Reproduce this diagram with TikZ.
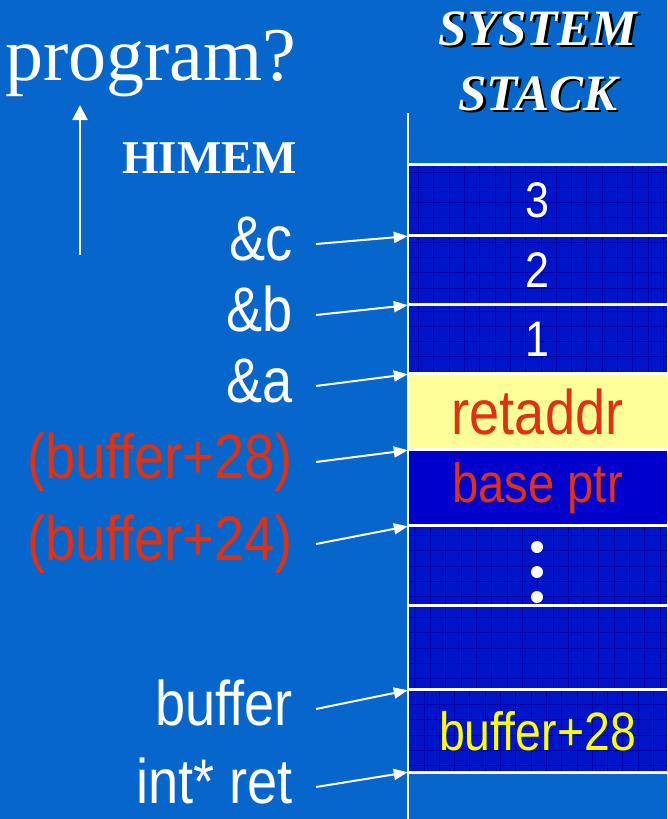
\documentclass[tikz,border=0pt]{standalone}
\usepackage{fontspec}
\setmainfont{Liberation Serif}
\newfontfamily\narrowsans[FakeStretch=0.86]{Liberation Sans}
\usetikzlibrary{arrows.meta}
\definecolor{slidebg}{RGB}{6,102,204}
\definecolor{stackblue}{RGB}{0,20,200}
\definecolor{gridblue}{RGB}{0,0,168}
\definecolor{solidblue}{RGB}{0,0,204}
\definecolor{memyellow}{RGB}{255,255,153}
\definecolor{ptrred}{RGB}{221,50,20}
\definecolor{bufyellow}{RGB}{255,255,0}
\newcommand\dropshadowed[1]{\makebox[0pt][l]{\kern2.5pt\raisebox{-2.5pt}{\color{black}#1}}#1}
\tikzset{
  ptr/.style={draw=white, line width=2pt, -{Triangle[length=14pt,width=11pt]}},
  addrlabel/.style={anchor=base east, inner sep=0pt, text height=45pt, text depth=13pt,
    text=white, font=\narrowsans\fontsize{63}{63}\selectfont},
  cell/.style={inner sep=0pt, minimum width=259pt, fill=stackblue,
    path picture={\draw[gridblue, line width=0.6pt]
      (path picture bounding box.south west) grid[step=15.3pt] (path picture bounding box.north east);}},
  celltext/.style={font=\narrowsans\fontsize{#1}{#1}\selectfont},
  divider/.style={draw=white, line width=3pt},
}
\begin{document}
\begin{tikzpicture}[x=1pt, y=-1pt]
\fill[slidebg] (0,0) rectangle (667,819);
\useasboundingbox (0,0) rectangle (667,819);
% heading
\node[anchor=base west, inner sep=0pt, text=white, font=\fontsize{76}{76}\selectfont] (prog) at (5,80) {program?};
\node[anchor=base west, inner sep=0pt, text=white, font=\bfseries\fontsize{47}{47}\selectfont] (himem) at (122,173) {HIMEM};
\foreach \word/\yy in {SYSTEM/45, STACK/110}
  \node[anchor=base, inner sep=0pt, text=white, font=\bfseries\itshape\fontsize{51}{51}\selectfont] (title-\word) at (538,\yy) {\dropshadowed{\word}};
\coordinate (upfoot) at (80,255);
\coordinate (uptip) at (80,105);
\draw[draw=white, line width=2pt, -{Triangle[length=15pt,width=15pt]}] (upfoot) -- (uptip);
% stack cells
\node[cell, minimum height=71pt, text=white, celltext=50] (c3) at (537.5,200.5) {3};
\node[cell, minimum height=69pt, text=white, celltext=50] (c2) at (537.5,270.5) {2};
\node[cell, minimum height=69pt, text=white, celltext=50] (c1) at (537.5,339.5) {1};
\node[inner sep=0pt, minimum width=259pt, minimum height=76pt, fill=memyellow, text=ptrred, celltext=63] (ret) at (537.5,412) {retaddr};
\node[inner sep=0pt, minimum width=259pt, minimum height=76pt, fill=solidblue, text=ptrred, celltext=55] (bp) at (537.5,488) {base ptr};
\node[cell, minimum height=80pt] (gap) at (537.5,566) {};
\node[cell, minimum height=84pt] (free) at (537.5,648) {};
\node[cell, minimum height=82pt, text=bufyellow, celltext=54] (buf) at (537.5,731) {buffer+28};
\foreach \yy in {547,572,597}
  \fill[white] (537,\yy) circle (6pt);
% dividers
\foreach \cc in {c3,c2,c1,ret,bp,gap,free,buf}
  \draw[divider] (\cc.north west) -- (\cc.north east);
\draw[divider] (buf.south west) -- (buf.south east);
\coordinate (stacktop) at (408,113);
\coordinate (stackfoot) at (408,819);
\draw[draw=white, line width=2.5pt] (stacktop) -- (stackfoot);
% addresses
\node[addrlabel] (lc) at (293,260) {\&c};
\node[addrlabel] (lb) at (293,331) {\&b};
\node[addrlabel] (la) at (293,402) {\&a};
\node[addrlabel, text=ptrred] (l28) at (293,478) {(buffer+28)};
\node[addrlabel, text=ptrred] (l24) at (293,560) {(buffer+24)};
\node[addrlabel] (lbuf) at (293,725) {buffer};
\node[addrlabel] (lret) at (293,803) {int* ret};
\draw[ptr] ([xshift=23pt]lc.east) -- (c3.south west);
\draw[ptr] ([xshift=23pt]lb.east) -- (c2.south west);
\draw[ptr] ([xshift=23pt]la.east) -- (c1.south west);
\draw[ptr] ([xshift=23pt]l28.east) -- (ret.south west);
\draw[ptr] ([xshift=23pt]l24.east) -- (bp.south west);
\draw[ptr] ([xshift=23pt]lbuf.east) -- (free.south west);
\draw[ptr] ([xshift=23pt]lret.east) -- (buf.south west);
\end{tikzpicture}
\end{document}
